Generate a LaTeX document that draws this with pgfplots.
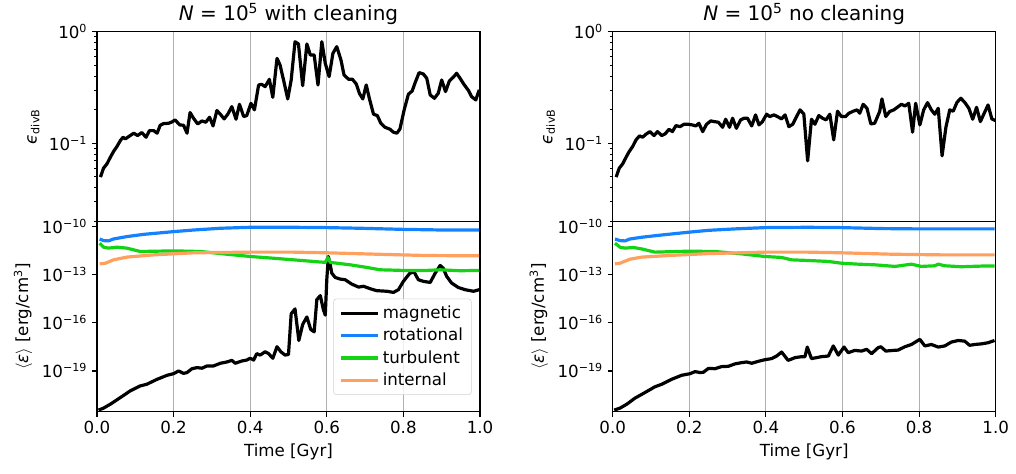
\documentclass[border=0pt]{standalone}
\usepackage{fontspec}
\setmainfont{DejaVu Sans}
\usepackage{pgfplots}
\pgfplotsset{compat=1.18}
\definecolor{crot}{RGB}{20,130,255}
\definecolor{cturb}{RGB}{20,210,20}
\definecolor{cint}{RGB}{255,160,95}
\definecolor{cgrid}{RGB}{176,176,176}
\pgfplotsset{
  mybase/.style={
    scale only axis, width=275.76pt, height=136.8pt, anchor=south west,
    xmin=0, xmax=1, xtick={0,0.2,0.4,0.6,0.8,1.0},
    xmajorgrids, grid style={cgrid, line width=0.8pt},
    axis line style={line width=0.8pt},
    tick align=outside, tick pos=left,
    major tick length=3.5pt, minor tick length=2pt,
    every tick/.style={black, line width=0.8pt},
    every minor tick/.style={black, line width=0.6pt},
    tick label style={font=\fontsize{12}{14}\selectfont},
    label style={font=\fontsize{12}{14}\selectfont},
    every axis title/.style={at={(0.5,1)}, anchor=base, yshift=7.7pt, font=\fontsize{14.4}{17}\selectfont},
  },
  mytop/.style={mybase, ymin=0.0198, ymax=1, ytick={0.1,1},
    yticklabels={10\textsuperscript{−1},10\textsuperscript{0}},
    minor ytick={0.02,0.03,0.04,0.05,0.06,0.07,0.08,0.09,0.2,0.3,0.4,0.5,0.6,0.7,0.8,0.9},
    xticklabels={}, ylabel={\textit{ϵ}\textsubscript{divB}}},
  mybot/.style={mybase, ymin=2.88e-22, ymax=2.04e-10,
    ytick={1e-10,1e-13,1e-16,1e-19}, yminorticks=false,
    yticklabels={10\textsuperscript{−10},10\textsuperscript{−13},10\textsuperscript{−16},10\textsuperscript{−19}},
    xticklabels={0.0,0.2,0.4,0.6,0.8,1.0}, xlabel={Time [Gyr]},
    ylabel={$\langle$\textit{ε}$\rangle$ [erg/cm\textsuperscript{3}]}},
}
\tikzset{mycurve/.style={line width=2.3pt, line join=round}}
\begin{document}
\begin{tikzpicture}
\useasboundingbox (0,0) rectangle (731.52pt,341.28pt);
% ---------------- top left
\begin{axis}[ymode=log, mytop, at={(69.84pt,181.66pt)}, title={\textit{N} = 10\textsuperscript{5} with cleaning}]
\addplot[mycurve, black] coordinates {
(0.009,0.0497)(0.017,0.0597)(0.026,0.0653)(0.035,0.0750)(0.043,0.0841)(0.052,0.0933)
(0.061,0.1057)(0.068,0.1132)(0.074,0.1094)(0.083,0.1148)(0.096,0.1230)(0.106,0.1172)
(0.117,0.1247)(0.128,0.1132)(0.137,0.1297)(0.148,0.1297)(0.157,0.1230)(0.165,0.1449)
(0.174,0.1500)(0.187,0.1510)(0.196,0.1552)(0.204,0.1618)(0.216,0.1459)(0.226,0.1449)
(0.235,0.1230)(0.243,0.1884)(0.252,0.1675)(0.263,0.1489)(0.274,0.1585)(0.284,0.1542)
(0.294,0.1710)(0.303,0.1429)(0.313,0.1963)(0.322,0.1820)(0.332,0.1652)(0.342,0.1832)
(0.352,0.2128)(0.363,0.1641)(0.372,0.2234)(0.383,0.1734)(0.391,0.1770)(0.402,0.2280)
(0.411,0.1991)(0.422,0.3327)(0.430,0.3373)(0.439,0.3214)(0.450,0.3741)(0.459,0.2582)
(0.470,0.5768)(0.478,0.5023)(0.489,0.3443)(0.498,0.2495)(0.507,0.3690)(0.517,0.8128)
(0.526,0.7762)(0.537,0.3281)(0.548,0.7762)(0.557,0.6180)(0.567,0.6180)(0.577,0.3327)
(0.587,0.8128)(0.596,0.5200)(0.606,0.3954)(0.616,0.6397)(0.626,0.7345)(0.637,0.5572)
(0.645,0.4093)(0.657,0.3741)(0.667,0.3741)(0.677,0.3396)(0.685,0.2805)(0.694,0.2495)
(0.703,0.3327)(0.711,0.2529)(0.722,0.1820)(0.732,0.1770)(0.741,0.1510)(0.752,0.1390)
(0.765,0.1334)(0.774,0.1256)(0.783,0.1230)(0.791,0.1343)(0.802,0.1991)(0.813,0.2748)
(0.823,0.2944)(0.830,0.3443)(0.841,0.4295)(0.852,0.4178)(0.861,0.3819)(0.870,0.2710)
(0.881,0.2529)(0.891,0.2805)(0.900,0.3690)(0.910,0.2904)(0.920,0.3614)(0.930,0.3899)
(0.939,0.4236)(0.948,0.3819)(0.958,0.3373)(0.970,0.2965)(0.978,0.2618)(0.989,0.2443)
(0.998,0.3006)};
\end{axis}
% ---------------- top right
\begin{axis}[ymode=log, mytop, at={(441.14pt,181.66pt)}, title={\textit{N} = 10\textsuperscript{5} no cleaning}]
\addplot[mycurve, black] coordinates {
(0.009,0.0497)(0.017,0.0597)(0.026,0.0653)(0.035,0.0750)(0.043,0.0841)(0.052,0.0933)
(0.061,0.1072)(0.070,0.1164)(0.078,0.1132)(0.087,0.1205)(0.097,0.1271)(0.108,0.1172)
(0.117,0.1271)(0.128,0.1172)(0.137,0.1213)(0.147,0.1334)(0.156,0.1271)(0.165,0.1439)
(0.176,0.1409)(0.186,0.1479)(0.197,0.1479)(0.208,0.1459)(0.217,0.1429)(0.225,0.1510)
(0.235,0.1271)(0.245,0.1479)(0.256,0.1585)(0.265,0.1563)(0.276,0.1542)(0.287,0.1390)
(0.295,0.1641)(0.305,0.1390)(0.313,0.1675)(0.323,0.1361)(0.334,0.1618)(0.343,0.1675)
(0.352,0.1675)(0.363,0.1429)(0.373,0.1795)(0.382,0.1459)(0.391,0.1563)(0.402,0.1820)
(0.410,0.1734)(0.421,0.1795)(0.430,0.1734)(0.441,0.1652)(0.450,0.1795)(0.460,0.1409)
(0.470,0.1479)(0.478,0.1675)(0.489,0.1991)(0.499,0.1832)(0.509,0.0695)(0.519,0.1641)
(0.528,0.1479)(0.538,0.1770)(0.548,0.1675)(0.557,0.1618)(0.567,0.1820)(0.577,0.1072)
(0.587,0.1936)(0.597,0.1734)(0.608,0.1734)(0.617,0.1858)(0.628,0.1936)(0.638,0.1991)
(0.645,0.1858)(0.654,0.2234)(0.664,0.2056)(0.674,0.1489)(0.684,0.1510)(0.697,0.1923)
(0.703,0.2495)(0.713,0.1734)(0.723,0.1923)(0.734,0.1991)(0.743,0.2099)(0.754,0.2234)
(0.763,0.2158)(0.773,0.2280)(0.783,0.1256)(0.791,0.2280)(0.802,0.1459)(0.812,0.1991)
(0.822,0.2312)(0.832,0.1991)(0.841,0.1820)(0.850,0.2056)(0.860,0.0771)(0.870,0.1390)
(0.880,0.1991)(0.889,0.1936)(0.899,0.2328)(0.909,0.2529)(0.919,0.2328)(0.930,0.2056)
(0.940,0.1641)(0.950,0.2099)(0.960,0.1563)(0.970,0.1858)(0.980,0.2203)(0.990,0.1652)
(0.999,0.1596)};
\end{axis}
% ---------------- bottom left
\begin{axis}[ymode=log, mybot, at={(69.84pt,44.86pt)},
  legend style={at={(0.978,0.088)}, anchor=south east, draw=gray!35, rounded corners=2pt,
    fill=white, fill opacity=0.8, text opacity=1, font=\fontsize{12}{14}\selectfont,
    row sep=1.5pt, inner xsep=4pt, inner ysep=3pt},
  legend cell align=left,
  legend image code/.code={\draw[#1] (0cm,0cm) -- (0.95cm,0cm);}]
\addplot[mycurve, black] coordinates {
(0.004,3.63e-22)(0.017,4.79e-22)(0.035,8.51e-22)(0.061,2.19e-21)(0.087,5.75e-21)
(0.113,1.17e-20)(0.130,1.48e-20)(0.157,3.02e-20)(0.183,5.37e-20)(0.200,6.76e-20)
(0.213,1.00e-19)(0.226,7.08e-20)(0.235,7.94e-20)(0.248,1.38e-19)(0.261,1.62e-19)
(0.274,1.48e-19)(0.287,2.04e-19)(0.304,2.04e-19)(0.322,3.02e-19)(0.339,3.63e-19)
(0.352,4.57e-19)(0.361,3.02e-19)(0.378,4.17e-19)(0.391,4.79e-19)(0.400,6.17e-19)
(0.409,4.79e-19)(0.417,1.20e-18)(0.426,9.77e-19)(0.439,1.58e-18)(0.448,1.20e-18)
(0.459,6.17e-19)(0.470,3.24e-18)(0.480,1.58e-18)(0.491,9.77e-19)(0.500,1.07e-18)
(0.507,3.63e-16)(0.517,7.41e-16)(0.527,7.94e-18)(0.537,7.94e-17)(0.548,2.34e-16)
(0.558,3.89e-17)(0.567,2.75e-17)(0.574,2.82e-15)(0.583,5.01e-15)(0.591,6.76e-16)
(0.596,3.02e-16)(0.600,4.90e-14)(0.604,1.38e-12)(0.609,4.17e-13)(0.613,1.26e-13)
(0.622,6.76e-14)(0.635,5.37e-14)(0.648,4.90e-14)(0.665,2.63e-14)(0.683,1.70e-14)
(0.696,1.91e-14)(0.713,1.35e-14)(0.730,1.02e-14)(0.757,9.33e-15)(0.774,7.94e-15)
(0.787,1.17e-14)(0.800,3.89e-14)(0.817,1.26e-13)(0.828,1.48e-13)(0.839,4.90e-14)
(0.852,3.89e-14)(0.870,3.31e-14)(0.883,1.26e-13)(0.896,3.80e-13)(0.904,2.57e-13)
(0.913,7.94e-14)(0.926,3.02e-14)(0.943,1.62e-14)(0.961,1.17e-14)(0.983,9.33e-15)
(0.998,1.17e-14)};
\addlegendentry{magnetic}
\addplot[mycurve, crot] coordinates {
(0.007,1.70e-11)(0.017,1.35e-11)(0.030,1.29e-11)(0.043,1.70e-11)(0.078,2.40e-11)
(0.122,3.31e-11)(0.200,4.90e-11)(0.252,6.17e-11)(0.322,7.94e-11)(0.400,9.12e-11)
(0.513,9.12e-11)(0.600,8.71e-11)(0.687,7.94e-11)(0.800,6.76e-11)(0.904,6.17e-11)
(0.998,6.17e-11)};
\addlegendentry{rotational}
\addplot[mycurve, cturb] coordinates {
(0.007,9.33e-12)(0.017,5.25e-12)(0.030,4.57e-12)(0.052,5.25e-12)(0.078,4.57e-12)
(0.113,2.82e-12)(0.200,3.09e-12)(0.270,2.82e-12)(0.339,1.91e-12)(0.400,1.38e-12)
(0.461,1.07e-12)(0.513,8.51e-13)(0.565,6.76e-13)(0.596,5.89e-13)(0.603,1.20e-12)
(0.609,5.89e-13)(0.661,4.17e-13)(0.704,2.88e-13)(0.739,2.04e-13)(0.800,1.86e-13)
(0.861,1.86e-13)(0.896,2.04e-13)(0.948,1.78e-13)(0.998,1.86e-13)};
\addlegendentry{turbulent}
\addplot[mycurve, cint] coordinates {
(0.007,4.79e-13)(0.022,5.25e-13)(0.043,8.51e-13)(0.078,1.26e-12)(0.148,1.74e-12)
(0.252,2.34e-12)(0.400,2.57e-12)(0.513,2.57e-12)(0.600,2.34e-12)(0.730,1.91e-12)
(0.861,1.58e-12)(0.998,1.51e-12)};
\addlegendentry{internal}
\end{axis}
% ---------------- bottom right
\begin{axis}[ymode=log, mybot, at={(441.14pt,44.86pt)}]
\addplot[mycurve, black] coordinates {
(0.004,3.63e-22)(0.019,4.79e-22)(0.037,8.51e-22)(0.058,2.00e-21)(0.084,4.47e-21)
(0.110,1.02e-20)(0.128,1.48e-20)(0.154,3.02e-20)(0.180,5.37e-20)(0.202,6.76e-20)
(0.215,9.12e-20)(0.228,7.94e-20)(0.237,8.32e-20)(0.250,1.45e-19)(0.267,1.38e-19)
(0.284,1.86e-19)(0.302,1.95e-19)(0.319,2.75e-19)(0.337,3.31e-19)(0.350,3.63e-19)
(0.363,3.02e-19)(0.380,3.98e-19)(0.397,5.01e-19)(0.415,5.89e-19)(0.428,8.51e-19)
(0.441,1.51e-18)(0.458,4.57e-19)(0.476,6.76e-19)(0.493,7.76e-19)(0.502,7.76e-19)
(0.508,3.09e-18)(0.519,5.89e-19)(0.532,6.76e-19)(0.545,7.76e-19)(0.563,8.51e-19)
(0.576,3.63e-18)(0.589,9.77e-19)(0.604,3.09e-18)(0.615,1.38e-18)(0.632,1.91e-18)
(0.650,1.74e-18)(0.663,2.24e-18)(0.676,1.20e-18)(0.693,2.82e-18)(0.700,3.24e-18)
(0.713,1.74e-18)(0.732,1.91e-18)(0.745,2.00e-18)(0.763,3.24e-18)(0.780,4.47e-18)
(0.797,7.94e-18)(0.802,9.33e-18)(0.815,3.63e-18)(0.832,4.47e-18)(0.850,3.09e-18)
(0.867,3.63e-18)(0.884,6.31e-18)(0.902,7.94e-18)(0.919,7.24e-18)(0.932,3.98e-18)
(0.945,4.47e-18)(0.963,4.90e-18)(0.980,5.75e-18)(0.997,7.94e-18)};
\addplot[mycurve, crot] coordinates {
(0.006,1.70e-11)(0.019,1.35e-11)(0.032,1.29e-11)(0.045,1.70e-11)(0.076,2.19e-11)
(0.128,3.02e-11)(0.197,4.47e-11)(0.250,5.89e-11)(0.319,7.24e-11)(0.397,8.71e-11)
(0.510,9.12e-11)(0.597,8.71e-11)(0.702,7.59e-11)(0.797,7.24e-11)(0.902,7.24e-11)
(0.997,7.24e-11)};
\addplot[mycurve, cturb] coordinates {
(0.006,9.33e-12)(0.019,5.25e-12)(0.032,4.57e-12)(0.054,5.01e-12)(0.076,4.07e-12)
(0.110,2.57e-12)(0.197,2.95e-12)(0.267,2.82e-12)(0.337,2.00e-12)(0.397,1.38e-12)
(0.441,1.20e-12)(0.467,8.51e-13)(0.510,7.76e-13)(0.563,6.76e-13)(0.597,5.25e-13)
(0.641,4.57e-13)(0.684,4.17e-13)(0.737,3.31e-13)(0.780,4.57e-13)(0.806,3.31e-13)
(0.841,3.63e-13)(0.850,4.57e-13)(0.867,3.63e-13)(0.910,3.16e-13)(0.963,3.47e-13)
(0.997,3.47e-13)};
\addplot[mycurve, cint] coordinates {
(0.006,4.79e-13)(0.019,5.25e-13)(0.045,9.33e-13)(0.076,1.26e-12)(0.145,1.58e-12)
(0.250,2.09e-12)(0.397,2.57e-12)(0.510,2.57e-12)(0.597,2.34e-12)(0.728,1.91e-12)
(0.858,1.74e-12)(0.997,1.74e-12)};
\end{axis}
\end{tikzpicture}
\end{document}
